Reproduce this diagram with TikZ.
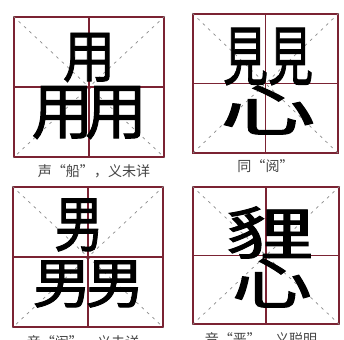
\documentclass[tikz,border=0pt]{standalone}
\usepackage{fontspec}
\newfontfamily\cjk{Noto Sans CJK SC}
\newfontfamily\cjkheavy[FakeBold=1.6]{Noto Sans CJK SC}
\usepackage{tikz}
\usetikzlibrary{positioning}

\definecolor{gridred}{HTML}{7B2333}
\definecolor{capgray}{HTML}{444444}

\begin{document}
\begin{tikzpicture}
  \tikzset{tianbox/.style = {shape = rectangle, draw = gridred, line width = 0.9pt, inner sep = 0}}
  \tikzset{diag/.style = {draw = black!45, line width = 0.4pt, dash pattern = on 1.6pt off 2.6pt}}
  \tikzset{cross/.style = {draw = gridred, line width = 0.7pt}}
  \tikzset{hanzi/.style = {inner sep = 0, font = \cjkheavy\fontsize{32}{32}\selectfont}}
  \tikzset{caption/.style = {inner sep = 0, text = capgray, font = \cjk\fontsize{8}{8}\selectfont}}

  \fill[white] (0,0) rectangle (6.88,-6.78);
  \useasboundingbox (0,0) rectangle (6.88,-6.78);

  \node[tianbox, minimum width = 30mm, minimum height = 28mm] (B1) at (1.78,-1.74) {};
  \node[tianbox, minimum width = 29mm, minimum height = 27.8mm] (B2) at (5.31,-1.67) {};
  \node[tianbox, minimum width = 30mm, minimum height = 28mm] (B3) at (1.76,-5.14) {};
  \node[tianbox, minimum width = 29.2mm, minimum height = 27.4mm] (B4) at (5.32,-5.11) {};

  \foreach \b in {B1,B2,B3,B4} {
    \draw[diag] (\b.north west) -- (\b.south east) (\b.north east) -- (\b.south west);
    \draw[cross] (\b.north) -- (\b.south) (\b.west) -- (\b.east);
  }

  % yong over yong yong
  \node[hanzi] (Y1) at (1.78,-1.15) {\scalebox{0.93}[1.02]{用}};
  \node[hanzi] (Y2) at (1.25,-2.25) {\scalebox{1.1}[1.1]{用}};
  \node[hanzi] (Y3) at (2.32,-2.25) {\scalebox{1.1}[1.1]{用}};
  \node[caption, below = 1.2mm of B1, xshift = 1mm] (C1) {声“船”，义未详};

  % jian jian over xin
  \node[hanzi] (J1) at (4.91,-1.13) {\scalebox{0.8}[1.15]{見}};
  \node[hanzi] (J2) at (5.81,-1.13) {\scalebox{0.8}[1.15]{見}};
  \node[hanzi] (X1) at (5.36,-2.20) {\scalebox{1.7}[1.0]{心}};
  \node[caption, below = 1mm of B2] (C2) {同“阅”};

  % nan over nan nan
  \node[hanzi] (N1) at (1.58,-4.50) {\scalebox{0.88}[1.08]{男}};
  \node[hanzi] (N2) at (1.24,-5.68) {\scalebox{1.05}[0.96]{男}};
  \node[hanzi] (N3) at (2.30,-5.68) {\scalebox{1.05}[0.96]{男}};
  \node[caption, below = 1.5mm of B3, xshift = -1mm] (C3) {音“闹”，义未详};

  % li over xin
  \node[hanzi] (L1) at (5.41,-4.65) {\scalebox{1.6}[1.02]{貍}};
  \node[hanzi] (X2) at (5.44,-5.66) {\scalebox{1.43}[1.0]{心}};
  \node[caption, below = 1.5mm of B4, xshift = -1mm] (C4) {音“恶”，义聪明};
\end{tikzpicture}
\end{document}
